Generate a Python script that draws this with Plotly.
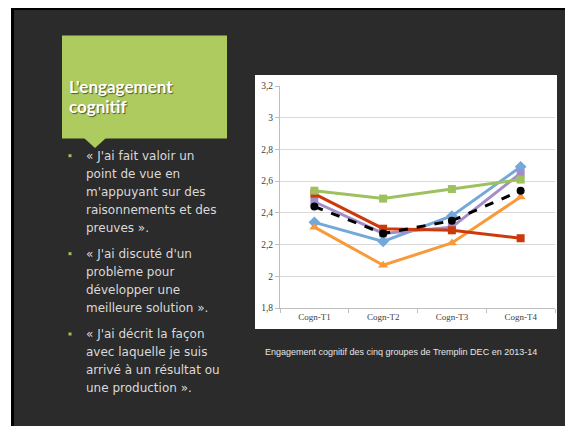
import plotly.graph_objects as go

# page is rendered with the browser's default 8px body margin
OFF = 8
W, H = 573 - OFF, 426 - OFF

categories = ["Cogn-T1", "Cogn-T2", "Cogn-T3", "Cogn-T4"]
groupe_bleu = [2.34, 2.22, 2.38, 2.69]
groupe_orange = [2.31, 2.07, 2.21, 2.50]
groupe_violet = [2.47, 2.27, 2.31, 2.65]
groupe_rouge = [2.52, 2.30, 2.29, 2.24]
groupe_vert = [2.54, 2.49, 2.55, 2.61]
moyenne = [2.44, 2.27, 2.35, 2.54]

y_tickvals = [1.8, 2.0, 2.2, 2.4, 2.6, 2.8, 3.0, 3.2]
y_ticktext = ["1,8", "2", "2,2", "2,4", "2,6", "2,8", "3", "3,2"]

title_lines = ["L'engagement", "cognitif"]
bullets = [
    ["« J'ai fait valoir un", "point de vue en", "m'appuyant sur des",
     "raisonnements et des", "preuves »."],
    ["« J'ai discuté d'un", "problème pour", "développer une",
     "meilleure solution »."],
    ["« J'ai décrit la façon", "avec laquelle je suis",
     "arrivé à un résultat ou", "une production »."],
]
caption = "Engagement cognitif des cinq groupes de Tremplin DEC en 2013-14"

# plot area in page pixels
PL, PR, PT, PB = 280, 555, 86, 308


def px(x):
    return (x - PL) / (PR - PL)


def py(y):
    return (PB - y) / (PB - PT)


fig = go.Figure()

series = [
    ("Groupe bleu", groupe_bleu, "#72A8DA", "diamond", "solid", 9),
    ("Groupe orange", groupe_orange, "#F89A3A", "triangle-up", "solid", 9),
    ("Groupe violet", groupe_violet, "#A28DC9", "square", "solid", 8),
    ("Groupe rouge", groupe_rouge, "#CC3A0C", "square", "solid", 8),
    ("Groupe vert", groupe_vert, "#9DC15E", "square", "solid", 8),
    ("Moyenne", moyenne, "#000000", "circle", "dash", 8),
]
for name, vals, col, sym, dash, ms in series:
    fig.add_trace(go.Scatter(
        x=categories, y=vals, name=name, mode="lines+markers",
        line=dict(color=col, width=3, dash=dash),
        marker=dict(color=col, symbol=sym, size=ms, line=dict(width=0)),
        showlegend=False, hoverinfo="skip",
    ))

shapes = []
# dark slide with black frame
shapes.append(dict(type="rect", xref="paper", yref="paper", layer="below",
                   x0=px(11), x1=px(600), y0=py(0), y1=py(450),
                   fillcolor="#000000", line=dict(width=0)))
shapes.append(dict(type="rect", xref="paper", yref="paper", layer="below",
                   x0=px(14), x1=px(600), y0=py(10), y1=py(450),
                   fillcolor="#2B2B2B", line=dict(width=0)))
# white chart box
shapes.append(dict(type="rect", xref="paper", yref="paper", layer="below",
                   x0=px(255), x1=px(557), y0=py(75), y1=py(329),
                   fillcolor="#FFFFFF", line=dict(width=0)))
# green title box
shapes.append(dict(type="rect", xref="paper", yref="paper", layer="below",
                   x0=px(62), x1=px(227), y0=py(35.5), y1=py(138.5),
                   fillcolor="#AECB5F", line=dict(width=0)))
shapes.append(dict(type="path", xref="paper", yref="paper", layer="below",
                   path="M {},{} L {},{} L {},{} Z".format(
                       px(84), py(138), px(106), py(138), px(95), py(148)),
                   fillcolor="#AECB5F", line=dict(width=0)))

annotations = []
for i, t in enumerate(title_lines):
    annotations.append(dict(
        text=t, xref="paper", yref="paper", x=px(67), y=py(86.5 + i * 19.5),
        xanchor="left", yanchor="middle", showarrow=False,
        font=dict(family="Lato", size=17, color="#FFFFFF", weight="bold",
                  shadow="1px 1px 1px rgba(0,0,0,0.55)"),
    ))

starts = [155.7, 253.7, 334.0]
for b, y0 in zip(bullets, starts):
    shapes.append(dict(type="rect", xref="paper", yref="paper", layer="above",
                       x0=px(68.5), x1=px(71.5), y0=py(y0 - 1.5), y1=py(y0 + 1.5),
                       fillcolor="#9DC15E", line=dict(width=0)))
    for j, line in enumerate(b):
        annotations.append(dict(
            text=line, xref="paper", yref="paper", x=px(84),
            y=py(y0 + j * 18.1), xanchor="left", yanchor="middle",
            showarrow=False,
            font=dict(family="DejaVu Sans", size=12, color="#D9D9D9"),
        ))

annotations.append(dict(
    text=caption, xref="paper", yref="paper", x=px(401), y=py(351.7),
    xanchor="center", yanchor="middle", showarrow=False,
    font=dict(family="Liberation Sans", size=9, color="#E6E6E6"),
))

fig.update_layout(
    width=W, height=H,
    margin=dict(l=PL - OFF, r=573 - PR, t=PT - OFF, b=426 - PB, pad=0),
    paper_bgcolor="#FFFFFF",
    plot_bgcolor="rgba(0,0,0,0)",
    shapes=shapes,
    annotations=annotations,
    showlegend=False,
    xaxis=dict(
        type="category", range=[-0.5, 3.5], showgrid=False,
        showline=True, linecolor="#BFBFBF", linewidth=1,
        ticks="outside", tickson="boundaries", ticklen=4, tickcolor="#BFBFBF",
        tickfont=dict(family="Liberation Serif", size=9, color="#404040"),
        zeroline=False, fixedrange=True,
    ),
    yaxis=dict(
        range=[1.8, 3.2], tickvals=y_tickvals, ticktext=y_ticktext,
        showgrid=True, gridcolor="#D9D9D9", gridwidth=1,
        showline=True, linecolor="#BFBFBF", linewidth=1,
        ticks="outside", ticklen=4, tickcolor="#BFBFBF",
        tickfont=dict(family="Liberation Serif", size=9.5, color="#404040"),
        zeroline=False, fixedrange=True,
    ),
)

fig.write_html("out.html")
